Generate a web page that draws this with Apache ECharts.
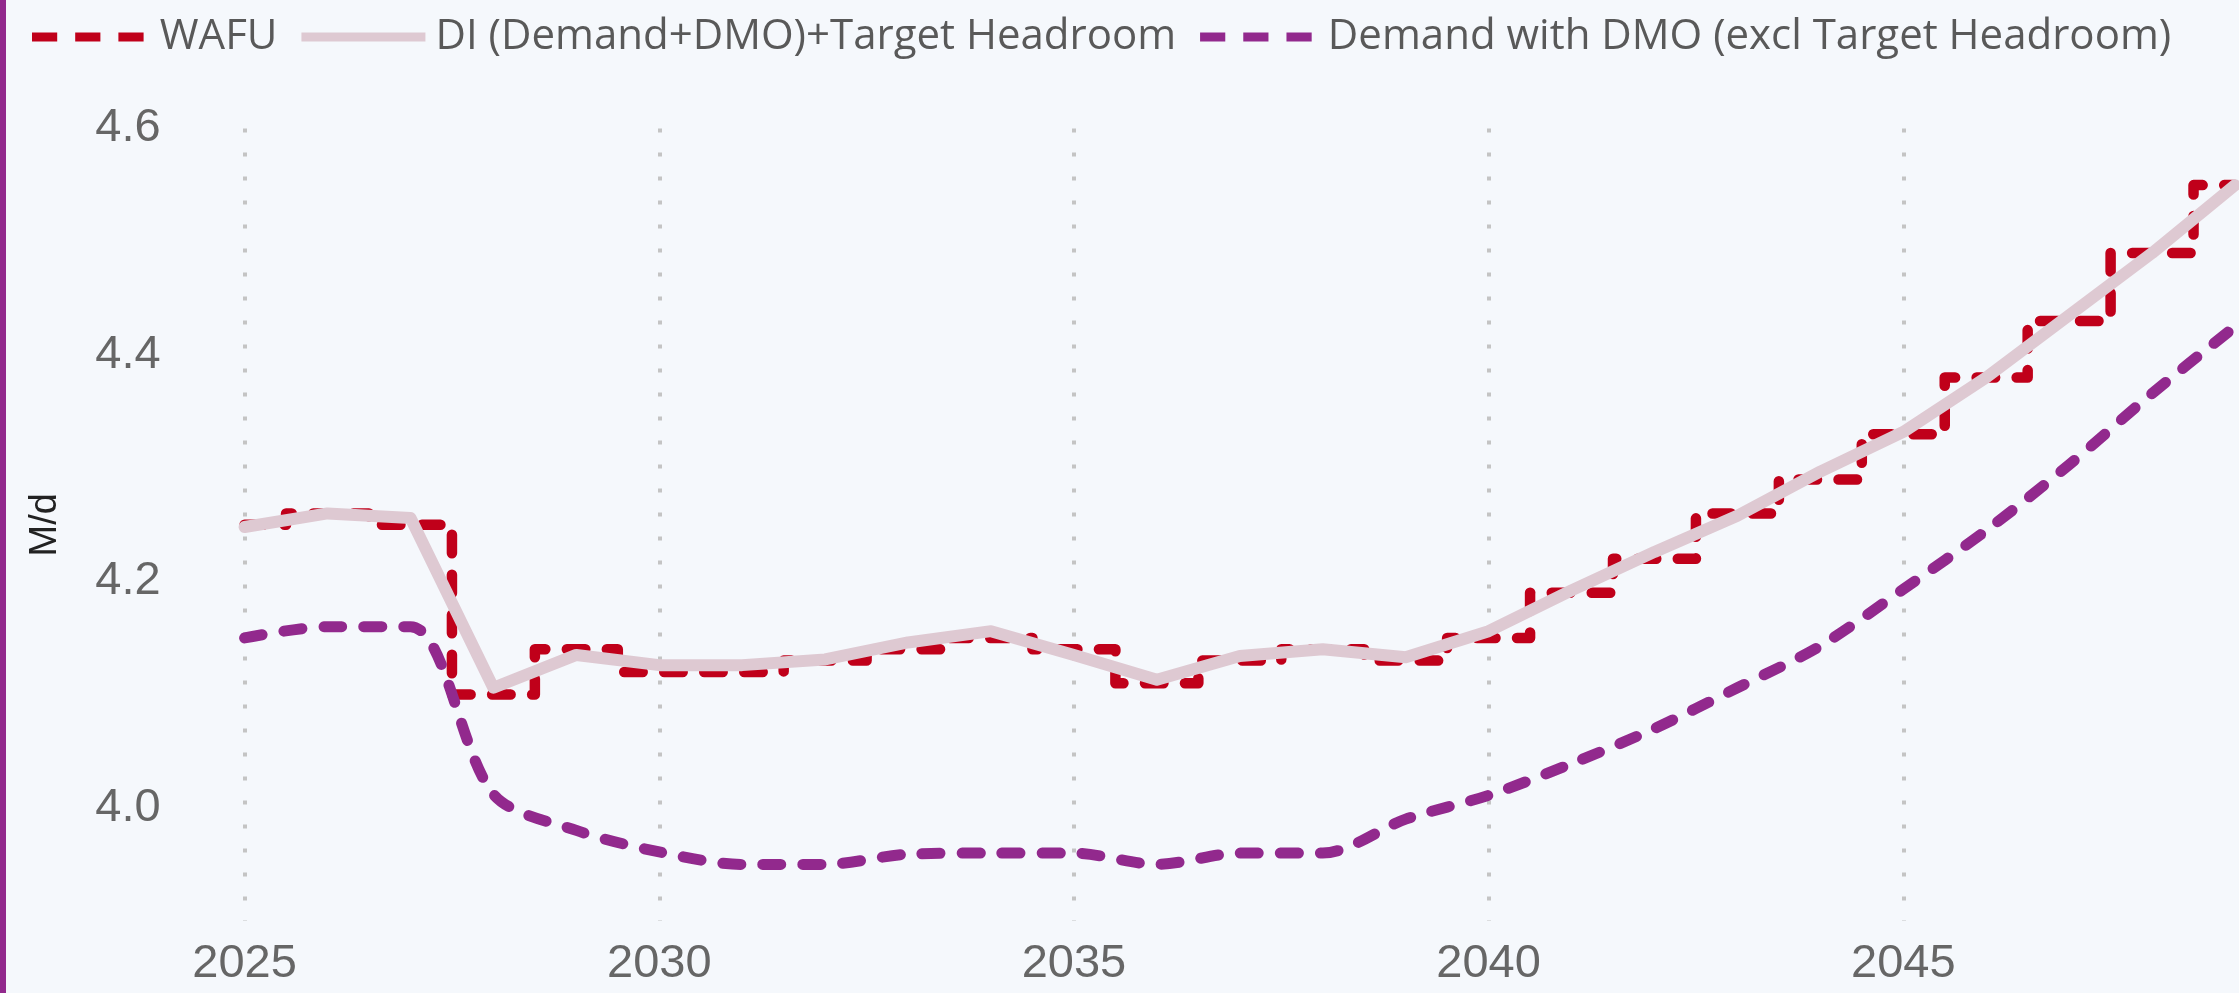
<!DOCTYPE html>
<html>
<head>
<meta charset="utf-8">
<style>
  html, body { margin: 0; padding: 0; background: #f5f8fc; }
  #wrap { width: 2233px; height: 993px; border-left: 6px solid #92298d; }
  #chart { width: 2233px; height: 993px; }
</style>
<script src="https://cdn.jsdelivr.net/npm/echarts@6/dist/echarts.min.js"></script>
</head>
<body>
<div id="wrap"><div id="chart"></div></div>
<script>
// years on the x axis
var years = ["2025", "2026", "2027", "2028", "2029", "2030", "2031", "2032", "2033", "2034", "2035", "2036",
  "2037", "2038", "2039", "2040", "2041", "2042", "2043", "2044", "2045", "2046", "2047", "2048", "2049"];

// WAFU (stepped)
var wafu = [4.25, 4.26, 4.25, 4.10, 4.14, 4.12, 4.12, 4.13, 4.14, 4.15, 4.14, 4.11, 4.13,
  4.14, 4.13, 4.15, 4.19, 4.22, 4.26, 4.29, 4.33, 4.38, 4.43, 4.49, 4.55];

// DI (Demand+DMO)+Target Headroom
var diHeadroom = [4.248, 4.26, 4.256, 4.106, 4.135, 4.126, 4.126, 4.131, 4.146, 4.156, 4.135, 4.113, 4.134,
  4.14, 4.133, 4.156, 4.192, 4.226, 4.258, 4.297, 4.332, 4.38, 4.435, 4.49, 4.55];

// Demand with DMO (excl Target Headroom)
var demandDmo = [4.15, 4.16, 4.16, 4.012, 3.98, 3.961, 3.95, 3.95, 3.959, 3.96, 3.96, 3.95, 3.96,
  3.96, 3.99, 4.011, 4.039, 4.07, 4.106, 4.143, 4.193, 4.245, 4.303, 4.366, 4.425];

var seriesNames = ["WAFU", "DI (Demand+DMO)+Target Headroom", "Demand with DMO (excl Target Headroom)"];

// size the legend font so the longest entry is about 845px wide, like the picture
var ctx = document.createElement("canvas").getContext("2d");
ctx.font = "normal 52px Open Sans, sans-serif";
var legendSize = Math.round((52 * 845) / ctx.measureText(seriesNames[2]).width);

var dashIcon = "path://M0,0h28v10h-28zM48,0h28v10h-28zM96,0h28v10h-28z";

var myChart = echarts.init(document.getElementById("chart"));

var option = {
  backgroundColor: "#f5f8fc",
  animation: false,
  grid: {
    left: 238.6,
    right: 4,
    top: 128.5,
    bottom: 72,
  },
  legend: {
    top: 7,
    left: 21,
    itemWidth: 124,
    itemHeight: 9,
    itemGap: 24,
    data: [
      { name: seriesNames[0], icon: dashIcon },
      { name: seriesNames[1], icon: "rect" },
      { name: seriesNames[2], icon: dashIcon },
    ],
    textStyle: {
      fontFamily: "Open Sans, sans-serif",
      fontSize: legendSize,
      lineHeight: 50,
      color: "#595959",
      padding: [0, 0, 0, 5],
    },
  },
  xAxis: {
    type: "category",
    data: years,
    boundaryGap: false,
    axisLine: { show: false },
    axisTick: { show: false },
    axisLabel: {
      interval: 4,
      margin: 20,
      fontFamily: "Liberation Sans, Arial, sans-serif",
      fontSize: 47,
      color: "#666666",
    },
    splitLine: {
      show: true,
      interval: 4,
      lineStyle: {
        color: "#c4c4c4",
        width: 4,
        type: [4, 20],
      },
    },
  },
  yAxis: {
    type: "value",
    min: 3.9,
    max: 4.6,
    interval: 0.1,
    name: "M/d",
    nameLocation: "middle",
    nameGap: 180,
    nameTextStyle: {
      fontFamily: "Liberation Sans, Arial, sans-serif",
      fontSize: 38,
      color: "#222222",
    },
    axisLine: { show: false },
    axisTick: { show: false },
    splitLine: { show: false },
    axisLabel: {
      margin: 84,
      fontFamily: "Liberation Sans, Arial, sans-serif",
      fontSize: 47,
      color: "#666666",
      formatter: function (value) {
        // only every second tenth gets a label
        return Math.round(value * 10) % 2 === 0 ? value.toFixed(1) : "";
      },
    },
  },
  series: [
    {
      name: seriesNames[0],
      type: "line",
      step: "middle",
      data: wafu,
      symbol: "none",
      lineStyle: {
        color: "#c0001a",
        width: 10.5,
        type: [18.5, 21.5],
        cap: "round",
        join: "round",
      },
      itemStyle: { color: "#c0001a" },
    },
    {
      name: seriesNames[1],
      type: "line",
      data: diHeadroom,
      symbol: "none",
      lineStyle: {
        color: "#dec9d2",
        width: 12,
        cap: "round",
        join: "round",
      },
      itemStyle: { color: "#dec9d2" },
    },
    {
      name: seriesNames[2],
      type: "line",
      data: demandDmo,
      symbol: "none",
      smooth: 0.3,
      lineStyle: {
        color: "#92298d",
        width: 11,
        type: [18, 22],
        cap: "round",
        join: "round",
      },
      itemStyle: { color: "#92298d" },
    },
  ],
};

option && myChart.setOption(option);
</script>
</body>
</html>
